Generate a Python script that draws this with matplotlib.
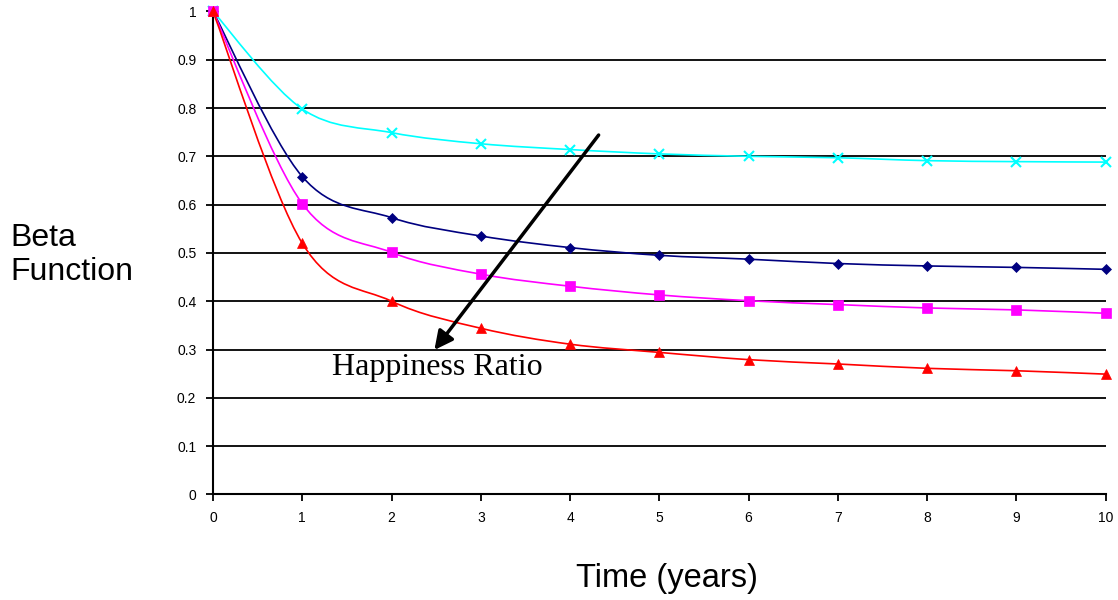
#!/usr/bin/env python3
# -*- coding: utf-8 -*-

import matplotlib
matplotlib.use('Agg')
import matplotlib.pyplot as plt
from matplotlib.path import Path
from matplotlib.patches import PathPatch

years = [0, 1, 2, 3, 4, 5, 6, 7, 8, 9, 10]

# beta function values for each happiness ratio
beta_cyan = [1.0, 0.798, 0.749, 0.726, 0.714, 0.705, 0.700, 0.697, 0.691, 0.689, 0.688]
beta_navy = [1.0, 0.658, 0.573, 0.535, 0.511, 0.495, 0.487, 0.478, 0.473, 0.470, 0.466]
beta_pink = [1.0, 0.602, 0.501, 0.456, 0.431, 0.413, 0.401, 0.393, 0.386, 0.382, 0.375]
beta_red = [1.0, 0.520, 0.400, 0.344, 0.311, 0.294, 0.279, 0.270, 0.261, 0.256, 0.249]

y_ticks = [0, 0.1, 0.2, 0.3, 0.4, 0.5, 0.6, 0.7, 0.8, 0.9, 1]
y_tick_labels = ['0', '0.1', '0.2', '0.3', '0.4', '0.5', '0.6', '0.7', '0.8', '0.9', '1']


def smooth_path(xs, ys):
    # spreadsheet-style smoothed line: cubic bezier through every point
    pts = list(zip(xs, ys))
    verts = [pts[0]]
    codes = [Path.MOVETO]
    n = len(pts)
    for i in range(n - 1):
        p0 = pts[i - 1] if i > 0 else pts[i]
        p1 = pts[i]
        p2 = pts[i + 1]
        p3 = pts[i + 2] if i + 2 < n else pts[i + 1]
        c1 = (p1[0] + (p2[0] - p0[0]) / 6, p1[1] + (p2[1] - p0[1]) / 6)
        c2 = (p2[0] - (p3[0] - p1[0]) / 6, p2[1] - (p3[1] - p1[1]) / 6)
        verts += [c1, c2, p2]
        codes += [Path.CURVE4] * 3
    return Path(verts, codes)


fig = plt.figure(figsize=(11.18, 6), dpi=100)
ax = fig.add_axes([0.1905, 0.176, 0.7985, 0.805])

# horizontal gridlines (none at the top)
for y in y_ticks[1:-1]:
    ax.axhline(y, color='black', lw=1.3, zorder=1)

series = [
    (beta_cyan, '#00FFFF', 'x', 6.5),
    (beta_navy, '#000080', 'D', 5.5),
    (beta_pink, '#FF00FF', 's', 6.5),
    (beta_red, '#FF0000', '^', 7.5),
]
for values, color, marker, size in series:
    ax.add_patch(PathPatch(smooth_path(years, values), fill=False,
                           edgecolor=color, lw=1.2, zorder=3))
    ax.plot(years, values, linestyle='none', marker=marker, color=color,
            markersize=size, markeredgewidth=1.5 if marker == 'x' else 0.5,
            zorder=4, clip_on=False)

ax.annotate('', xy=(2.48, 0.299), xytext=(4.32, 0.744),
            arrowprops=dict(arrowstyle='-|>', color='black', lw=2.5,
                            mutation_scale=28, shrinkA=0, shrinkB=0),
            zorder=5)
ax.text(2.51, 0.262, 'Happiness Ratio', family='Liberation Serif',
        fontsize=23, ha='center', va='center', zorder=6)

ax.set_xlim(0, 10)
ax.set_ylim(0, 1)
ax.set_xticks(years)
ax.set_yticks(y_ticks)
ax.set_yticklabels(y_tick_labels)
for lbl in ax.get_xticklabels() + ax.get_yticklabels():
    lbl.set_family('Liberation Sans')
    lbl.set_fontsize(10)
ax.tick_params(axis='both', direction='out', length=5, width=1.3, color='black')
ax.tick_params(axis='x', pad=7)
ax.tick_params(axis='y', pad=7)

ax.spines['top'].set_visible(False)
ax.spines['right'].set_visible(False)
ax.spines['left'].set_linewidth(1.5)
ax.spines['bottom'].set_linewidth(1.5)

fig.text(10 / 1118, 1 - 255 / 600, 'Beta\nFunction', family='Liberation Sans',
         fontsize=23, ha='left', va='center', linespacing=1.2)
fig.text(667 / 1118, 1 - 578 / 600, 'Time (years)', family='Liberation Sans',
         fontsize=23.5, ha='center', va='center')

fig.savefig('out.png', dpi=100)
